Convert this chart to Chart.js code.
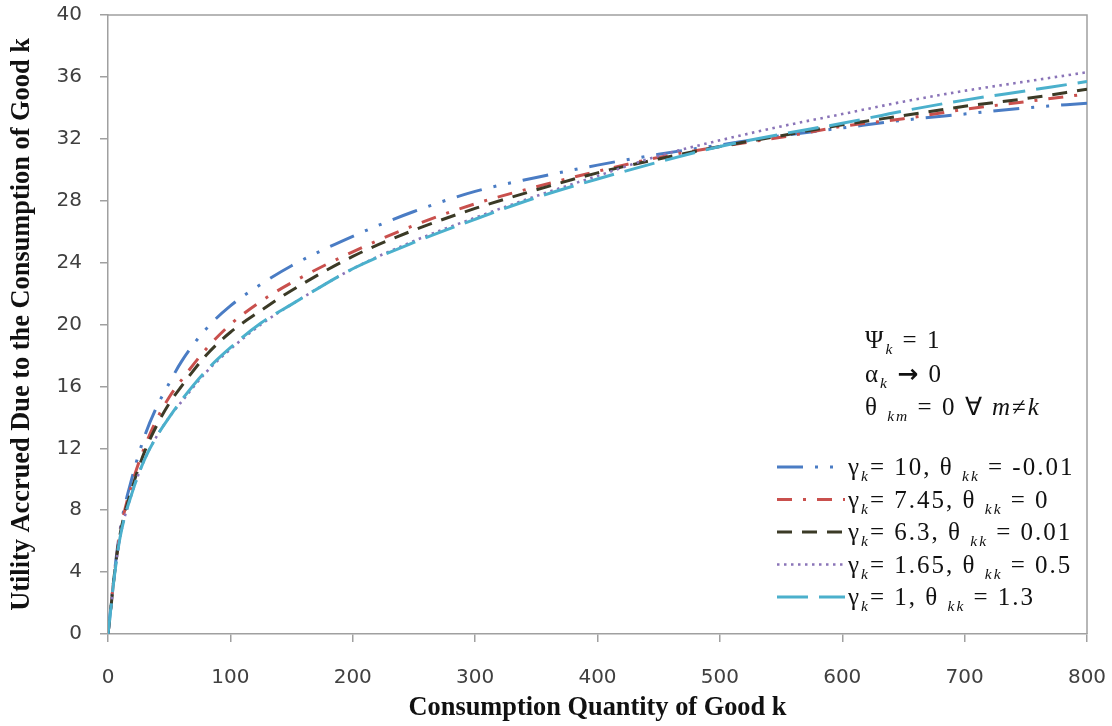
<!DOCTYPE html>
<html><head><meta charset="utf-8">
<script src="https://cdn.jsdelivr.net/npm/chart.js@4.4.1/dist/chart.umd.min.js"></script>
<style>html,body{margin:0;padding:0;background:#fff;}#wrap{width:1112px;height:726px;}</style>
</head><body><div id="wrap"><canvas id="c" width="1112" height="726"></canvas></div>
<script>
// ---- data ----
const xValues = [0, 2, 5, 10, 20, 30, 40, 50, 60, 80, 100, 125, 150, 200, 250, 300, 350, 400, 450, 500, 550, 600, 650, 700, 750, 800];
const gamma10 = [0, 1.5, 3.8, 6.8, 10.2, 12.8, 14.7, 16.2, 17.6, 19.7, 21.2, 22.6, 23.8, 25.7, 27.3, 28.6, 29.5, 30.3, 31.0, 31.6, 32.2, 32.7, 33.2, 33.6, 34.0, 34.3];
const gamma745 = [0, 1.5, 3.7, 6.6, 9.8, 12.1, 13.9, 15.3, 16.4, 18.4, 20.0, 21.5, 22.7, 24.7, 26.4, 27.8, 28.9, 29.9, 30.8, 31.5, 32.1, 32.8, 33.3, 33.9, 34.4, 34.9];
const gamma63 = [0, 1.4, 3.7, 6.5, 9.5, 11.8, 13.5, 14.9, 16.0, 18.0, 19.5, 20.9, 22.2, 24.4, 26.1, 27.5, 28.7, 29.8, 30.7, 31.5, 32.2, 32.9, 33.5, 34.1, 34.6, 35.2];
const gamma165 = [0, 1.4, 3.6, 6.3, 9.2, 11.3, 12.8, 14.0, 15.0, 16.9, 18.4, 20.0, 21.3, 23.6, 25.4, 26.9, 28.3, 29.6, 30.9, 31.9, 32.8, 33.6, 34.4, 35.1, 35.7, 36.3];
const gamma1 = [0, 1.4, 3.6, 6.3, 9.2, 11.3, 12.8, 14.0, 15.1, 17.0, 18.5, 20.1, 21.3, 23.6, 25.3, 26.8, 28.2, 29.4, 30.5, 31.5, 32.3, 33.0, 33.8, 34.5, 35.1, 35.7];
const seriesNames = ['γk=10, θkk=-0.01', 'γk=7.45, θkk=0', 'γk=6.3, θkk=0.01', 'γk=1.65, θkk=0.5', 'γk=1, θkk=1.3'];
const yTickValues = [0, 4, 8, 12, 16, 20, 24, 28, 32, 36, 40];
const xTickValues = [0, 100, 200, 300, 400, 500, 600, 700, 800];
const xTitle = 'Consumption Quantity of Good k';
const yTitle = 'Utility Accrued Due to the Consumption of Good k';
// rich text pieces: n = normal, s = italic subscript, i = italic, b = bold symbol
const legendRich = [
  [['γ','n'],['k','s'],['= 10, θ ','n'],['kk','s'],[' = -0.01','n']],
  [['γ','n'],['k','s'],['= 7.45, θ ','n'],['kk','s'],[' = 0','n']],
  [['γ','n'],['k','s'],['= 6.3, θ ','n'],['kk','s'],[' = 0.01','n']],
  [['γ','n'],['k','s'],['= 1.65, θ ','n'],['kk','s'],[' = 0.5','n']],
  [['γ','n'],['k','s'],['= 1, θ ','n'],['kk','s'],[' = 1.3','n']]
];
const noteRich = [
  [['Ψ','n'],['k','s'],[' = 1','n']],
  [['α','n'],['k','s'],[' ','n'],['→','b'],[' 0','n']],
  [['θ ','n'],['km','s'],[' = 0 ∀ ','n'],['m','i'],['≠','n'],['k','i']]
];

// ---- styles ----
const colors = ['#4a7cc4', '#c9504d', '#3b3a26', '#8a74b8', '#4bb0cc'];
const dashes = [[26,12,3,12,3,12],[15,11,3,11],[15,10],[2.5,4.5],[31,11]];
const widths = [3, 3, 3, 2.6, 3];
const AXIS = '#a0a0a0';
const SERIF = '"Liberation Serif", "Times New Roman", serif';

function fitSize(text, font, target){
  const c = document.createElement('canvas').getContext('2d');
  c.font = 'bold 100px ' + font;
  return 100 * target / c.measureText(text).width;
}
const titleSize = fitSize(xTitle, SERIF, 378);

function drawRich(ctx, x, y, parts, size){
  ctx.save();
  ctx.textBaseline = 'alphabetic';
  ctx.textAlign = 'left';
  try { ctx.letterSpacing = '2px'; } catch(e){}
  for (const [t, s] of parts){
    let yy = y;
    if (s === 's'){ ctx.font = 'italic ' + (size*0.62).toFixed(1) + 'px ' + SERIF; yy = y + size*0.25; }
    else if (s === 'i'){ ctx.font = 'italic ' + size + 'px ' + SERIF; }
    else if (s === 'b'){ ctx.font = 'bold ' + size + 'px "DejaVu Sans", sans-serif'; }
    else { ctx.font = size + 'px ' + SERIF; }
    ctx.fillText(t, x, yy);
    x += ctx.measureText(t).width;
  }
  ctx.restore();
}

function zeroPad(s){ s.paddingTop = 0; s.paddingBottom = 0; s.paddingLeft = 0; s.paddingRight = 0; }

const extras = {
  id: 'extras',
  beforeDatasetsDraw(chart){
    const {ctx, chartArea: a} = chart;
    ctx.save();
    ctx.strokeStyle = AXIS; ctx.lineWidth = 1.5;
    ctx.beginPath();
    ctx.moveTo(a.left, a.top); ctx.lineTo(a.right, a.top); ctx.lineTo(a.right, a.bottom);
    ctx.stroke();
    ctx.restore();
  },
  afterDatasetsDraw(chart){
    const ctx = chart.ctx;
    const nb = [348, 381.5, 415];
    noteRich.forEach((p, i) => { ctx.fillStyle = '#111'; drawRich(ctx, 865, nb[i], p, 25); });
    const lb = [475, 507.5, 540, 572.5, 605];
    legendRich.forEach((p, i) => {
      ctx.save();
      ctx.strokeStyle = colors[i]; ctx.lineWidth = widths[i];
      ctx.setLineDash(dashes[i]); ctx.lineCap = 'butt';
      ctx.beginPath(); ctx.moveTo(777, lb[i]-8); ctx.lineTo(845, lb[i]-8); ctx.stroke();
      ctx.restore();
      ctx.fillStyle = '#111';
      drawRich(ctx, 848, lb[i], p, 25);
    });
  }
};

const datasets = [gamma10, gamma745, gamma63, gamma165, gamma1].map((arr, i) => ({
  label: seriesNames[i],
  data: xValues.map((x, j) => ({x: x, y: arr[j]})),
  borderColor: colors[i],
  borderWidth: widths[i],
  borderDash: dashes[i],
  borderCapStyle: 'butt',
  pointRadius: 0,
  fill: false,
  cubicInterpolationMode: 'monotone',
  order: 5 - i
}));

new Chart(document.getElementById('c'), {
  type: 'line',
  data: { datasets },
  options: {
    responsive: false,
    animation: false,
    devicePixelRatio: 1,
    layout: { padding: { top: 15, right: 25, left: 0, bottom: 0 } },
    plugins: { legend: { display: false }, tooltip: { enabled: false } },
    scales: {
      x: {
        type: 'linear', min: 0, max: 800,
        afterFit(s){ s.height = 92; zeroPad(s); },
        afterBuildTicks(s){ s.ticks = xTickValues.map(v => ({value: v})); },
        grid: { drawOnChartArea: false, drawTicks: true, tickLength: 8, color: AXIS, lineWidth: 1.5 },
        border: { display: true, color: AXIS, width: 1.5 },
        ticks: { padding: 24, color: '#404040', font: { family: '"DejaVu Sans", sans-serif', size: 20 }, maxRotation: 0 },
        title: { display: true, text: xTitle, color: '#111', padding: { top: 0, bottom: 2 },
                 font: { family: SERIF, size: titleSize, weight: 'bold' } }
      },
      y: {
        type: 'linear', min: 0, max: 40,
        afterFit(s){ s.width = 108; zeroPad(s); },
        afterBuildTicks(s){ s.ticks = yTickValues.map(v => ({value: v})); },
        grid: { drawOnChartArea: false, drawTicks: true, tickLength: 8, color: AXIS, lineWidth: 1.5 },
        border: { display: true, color: AXIS, width: 1.5 },
        ticks: { padding: 18, color: '#404040', font: { family: '"DejaVu Sans", sans-serif', size: 20 } },
        title: { display: true, text: yTitle, color: '#111', padding: { top: 6, bottom: 0 },
                 font: { family: SERIF, size: titleSize, weight: 'bold' } }
      }
    }
  },
  plugins: [extras]
});
</script></body></html>
